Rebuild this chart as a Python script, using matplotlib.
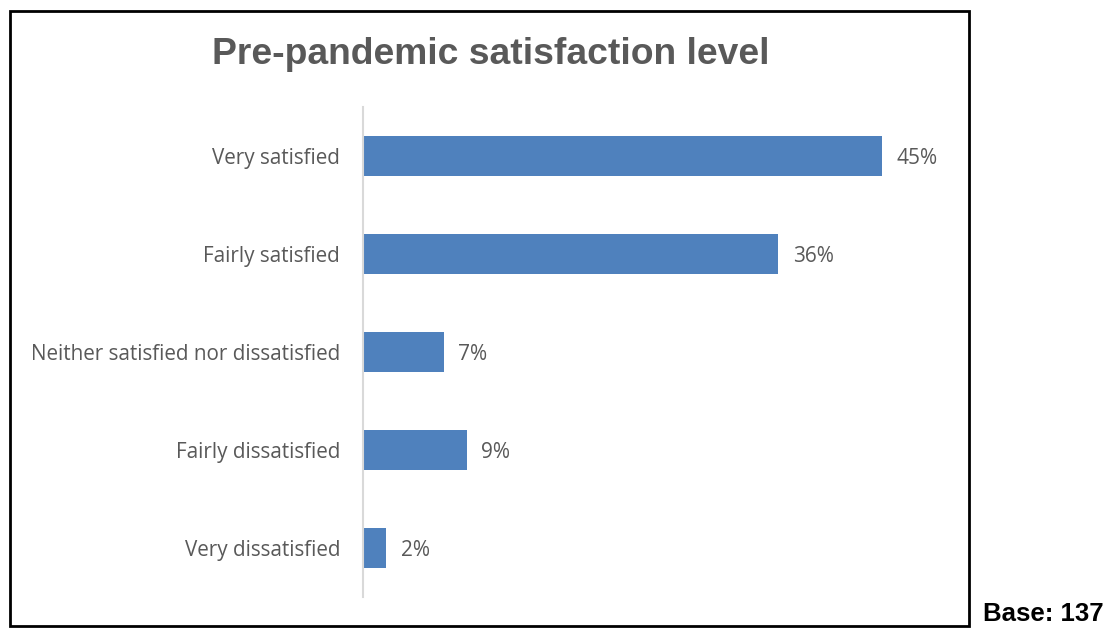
import matplotlib
matplotlib.use("Agg")
import matplotlib.pyplot as plt
from matplotlib.patches import Rectangle

categories = ["Very satisfied", "Fairly satisfied", "Neither satisfied nor dissatisfied",
              "Fairly dissatisfied", "Very dissatisfied"]
values = [45, 36, 7, 9, 2]
value_labels = ["45%", "36%", "7%", "9%", "2%"]
title = "Pre-pandemic satisfaction level"
base_note = "Base: 137"

W, H = 1107, 628
fig = plt.figure(figsize=(W / 100, H / 100), dpi=100)
fig.patch.set_facecolor("white")

# outer border
fig.add_artist(Rectangle((10 / W, 1 - 626 / H), (969 - 10) / W, (626 - 11) / H,
                         transform=fig.transFigure, fill=False, edgecolor="black", linewidth=2))

ax_left, ax_right = 363, 940
ax_top, ax_bot = 107, 597
ax = fig.add_axes([ax_left / W, 1 - ax_bot / H, (ax_right - ax_left) / W, (ax_bot - ax_top) / H])
xmax = 50
ax.set_xlim(0, xmax)
n = len(categories)
ax.set_ylim(n - 0.5, -0.5)

ypos = list(range(n))
ax.barh(ypos, values, height=0.4, color="#4F81BD", left=0)
for y, v, lab in zip(ypos, values, value_labels):
    ax.text(v + 1.25, y, lab, va="center_baseline", ha="left", fontsize=15, color="#595959",
            family="Open Sans")

ax.set_yticks(ypos)
ax.set_yticklabels(categories, fontsize=14.9, color="#595959", family="Open Sans")
ax.tick_params(axis="y", length=0, pad=16.5)
ax.set_xticks([])
for s in ["top", "right", "bottom"]:
    ax.spines[s].set_visible(False)
ax.spines["left"].set_color("#D9D9D9")
ax.spines["left"].set_linewidth(1.5)

fig.text(491 / W, 1 - 54 / H, title, ha="center", va="center", fontsize=26.8,
         fontweight="bold", color="#595959", family="Liberation Sans")
fig.text(1043 / W, 1 - 614 / H, base_note, ha="center", va="center", fontsize=18.5,
         fontweight="bold", color="black", family="Liberation Sans")

fig.savefig("out.png", dpi=100)
